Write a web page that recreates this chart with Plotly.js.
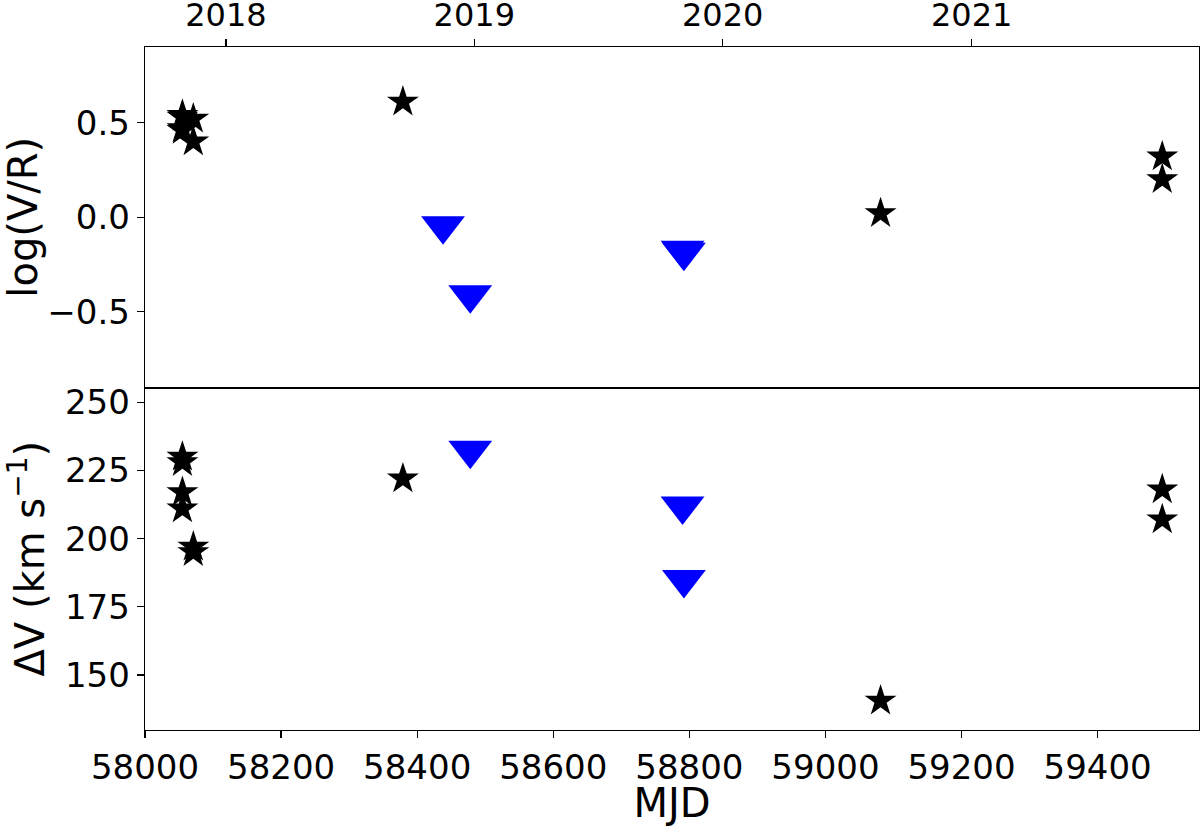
<!DOCTYPE html>
<html>
<head>
<meta charset="utf-8">
<script src="https://cdn.plot.ly/plotly-3.0.1.min.js"></script>
<style>html,body{margin:0;padding:0;background:#fff;}#chart{width:1200px;height:826px;}</style>
</head>
<body>
<div id="chart"></div>
<script>
// Stars (black): MJD, log(V/R), Delta V
const starMJD   = [58055, 58055, 58055, 58055, 58071, 58071, 58379, 59081, 59495, 59495];
const starLogVR = [0.54, 0.53, 0.47, 0.46, 0.52, 0.40, 0.61, 0.02, 0.32, 0.20];
const starDV    = [230, 228, 217, 211, 197, 195, 222, 140.5, 218, 207];

// Triangles (blue), top panel
const triMJD    = [58438, 58478, 58790, 58792];
const triLogVR  = [-0.045, -0.41, -0.175, -0.185];
// Triangles (blue), bottom panel
const triDVMJD  = [58478, 58790, 58792];
const triDV     = [232.5, 212, 185];

// Axis ticks
const mjdTicks  = [58000, 58200, 58400, 58600, 58800, 59000, 59200, 59400];
const yearTickMJD = [58119, 58484, 58849, 59215];
const yearLabels  = ['2018', '2019', '2020', '2021'];
const logTicks  = [-0.5, 0.0, 0.5];
const logTickText = ['\u22120.5', '0.0', '0.5'];
const dvTicks   = [150, 175, 200, 225, 250];

const FONT = 'DejaVu Sans, sans-serif';
const xRange = [58000, 59549];

const starMarker = {symbol: 'star', size: 24, color: '#000000', line: {width: 0}};
const triMarker  = {symbol: 'triangle-down', size: 38, color: '#0000ff', line: {width: 0}};

const traces = [
  {x: starMJD, y: starLogVR, xaxis: 'x2', yaxis: 'y2', type: 'scatter', mode: 'markers', marker: starMarker, hoverinfo: 'skip'},
  {x: triMJD, y: triLogVR, xaxis: 'x2', yaxis: 'y2', type: 'scatter', mode: 'markers', marker: triMarker, hoverinfo: 'skip'},
  {x: starMJD, y: starDV, xaxis: 'x', yaxis: 'y', type: 'scatter', mode: 'markers', marker: starMarker, hoverinfo: 'skip'},
  {x: triDVMJD, y: triDV, xaxis: 'x', yaxis: 'y', type: 'scatter', mode: 'markers', marker: triMarker, hoverinfo: 'skip'},
  {x: [yearTickMJD[0]], y: [0], xaxis: 'x3', yaxis: 'y2', type: 'scatter', mode: 'markers', marker: {opacity: 0}, hoverinfo: 'skip'}
];

const axisCommon = {
  showgrid: false, zeroline: false, showline: true, linecolor: '#000', linewidth: 1.3,
  ticks: 'outside', ticklen: 7, tickwidth: 1.3, tickcolor: '#000',
  tickfont: {family: FONT, size: 34, color: '#000'}
};

const layout = {
  width: 1200, height: 826,
  margin: {l: 145, r: 1, t: 47, b: 96},
  paper_bgcolor: '#fff', plot_bgcolor: '#fff',
  showlegend: false,
  font: {family: FONT, color: '#000'},
  xaxis: Object.assign({}, axisCommon, {
    domain: [0, 1], anchor: 'y', range: xRange, mirror: false,
    tickmode: 'array', tickvals: mjdTicks, ticktext: mjdTicks.map(String),
    title: {text: 'MJD', font: {family: FONT, size: 40, color: '#000'}, standoff: 14}
  }),
  yaxis: Object.assign({}, axisCommon, {
    domain: [0, 0.5015], anchor: 'x', range: [129.8, 255.5], mirror: true,
    tickmode: 'array', tickvals: dvTicks, ticktext: dvTicks.map(String),
    title: {text: '\u0394V (km s<sup>\u22121</sup>)', font: {family: FONT, size: 40, color: '#000'}, standoff: 8}
  }),
  xaxis2: Object.assign({}, axisCommon, {
    domain: [0, 1], anchor: 'y2', matches: 'x', range: xRange, mirror: true,
    showticklabels: false, ticks: ''
  }),
  yaxis2: Object.assign({}, axisCommon, {
    domain: [0.5015, 1], anchor: 'x2', range: [-0.9, 0.9], mirror: true,
    tickmode: 'array', tickvals: logTicks, ticktext: logTickText,
    title: {text: 'log(V/R)', font: {family: FONT, size: 40, color: '#000'}, standoff: 8}
  }),
  xaxis3: Object.assign({}, axisCommon, {
    domain: [0, 1], anchor: 'y2', overlaying: 'x2', side: 'top', range: xRange,
    showline: false, tickmode: 'array', tickvals: yearTickMJD, ticktext: yearLabels,
    tickfont: {family: FONT, size: 32, color: '#000'}
  })
};

Plotly.newPlot('chart', traces, layout, {staticPlot: true, displayModeBar: false});
</script>
</body>
</html>
